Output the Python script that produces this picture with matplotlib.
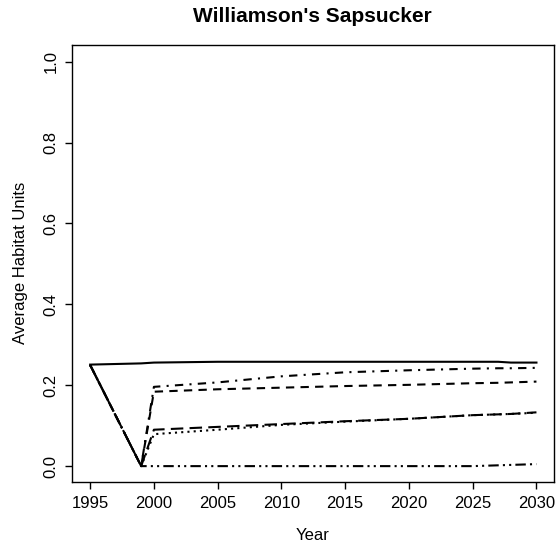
import matplotlib
matplotlib.use("Agg")
import matplotlib.pyplot as plt

plt.rcParams['font.family'] = ['Liberation Sans', 'DejaVu Sans']

# years of the projection (1996-1998 lie on the straight drop)
years = [1995, 1999, 2000, 2005, 2010, 2015, 2020, 2025, 2027, 2028, 2030]

solid = [0.251, 0.254, 0.256, 0.258, 0.258, 0.258, 0.258, 0.258, 0.258, 0.256, 0.256]
dotdash = [0.25, 0.0, 0.196, 0.207, 0.222, 0.232, 0.237, 0.241, 0.242, 0.242, 0.243]
dashed = [0.25, 0.0, 0.184, 0.190, 0.194, 0.198, 0.201, 0.205, 0.206, 0.207, 0.209]
longdash = [0.25, 0.0, 0.090, 0.097, 0.104, 0.111, 0.117, 0.126, 0.128, 0.129, 0.133]
dotted = [0.25, 0.0, 0.079, 0.090, 0.102, 0.110, 0.117, 0.126, 0.128, 0.129, 0.132]
twodash = [0.25, 0.0, 0.0, 0.0, 0.0, 0.0, 0.0, 0.0, 0.002, 0.003, 0.005]

xticks = [1995, 2000, 2005, 2010, 2015, 2020, 2025, 2030]
yticks = [0.0, 0.2, 0.4, 0.6, 0.8, 1.0]

fig = plt.figure(figsize=(5.6, 5.48), dpi=100)
ax = fig.add_axes([72.3 / 560, 1 - 482.3 / 548, (554.3 - 72.3) / 560, (482.3 - 45.5) / 548])

lw = 1.5
ax.plot(years, solid, color='black', lw=lw)
ax.plot(years, dashed, color='black', lw=lw, dashes=(4, 3))
ax.plot(years, dotted, color='black', lw=lw, dashes=(1, 2))
ax.plot(years, dotdash, color='black', lw=lw, dashes=(1, 3, 4, 3))
ax.plot(years, longdash, color='black', lw=lw, dashes=(6, 3))
ax.plot(years, twodash, color='black', lw=lw, dashes=(5, 2, 1, 2, 1, 2))

ax.set_xlim(1993.6, 2031.4)
ax.set_ylim(-0.04, 1.04)
ax.set_xticks(xticks)
ax.set_xticklabels([str(t) for t in xticks])
ax.set_yticks(yticks)
ax.set_yticklabels(['%.1f' % t for t in yticks])
ax.tick_params(direction='out', length=5, width=1, labelsize=12, pad=5, colors='black')
for lab in ax.get_yticklabels():
    lab.set_rotation(90)
    lab.set_va('center')
for sp in ax.spines.values():
    sp.set_linewidth(1)

fig.text(312 / 560, 1 - 17 / 548, "Williamson's Sapsucker", ha='center', va='center',
         fontsize=15, fontweight='bold')
fig.text(313 / 560, 1 - 536 / 548, "Year", ha='center', va='center', fontsize=12)
fig.text(21 / 560, 1 - 263 / 548, "Average Habitat Units", ha='center', va='center',
         rotation=90, fontsize=12)

fig.savefig("out.png", dpi=100)
